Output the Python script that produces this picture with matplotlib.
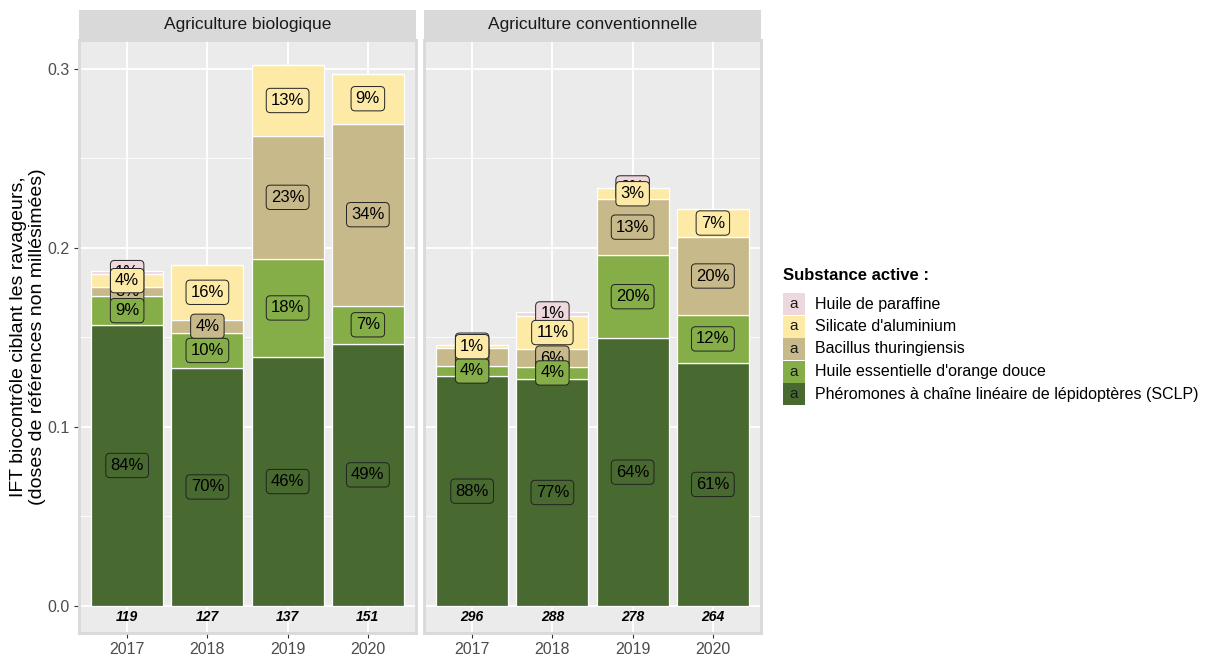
import matplotlib
matplotlib.use('Agg')
import matplotlib.pyplot as plt
from matplotlib.patches import Rectangle

plt.rcParams['font.family'] = ['Liberation Sans', 'DejaVu Sans']

# ---------------- data ----------------
years = ['2017', '2018', '2019', '2020']
panels = ['Agriculture biologique', 'Agriculture conventionnelle']
substances = ['Phéromones à chaîne linéaire de lépidoptères (SCLP)',
              "Huile essentielle d'orange douce",
              'Bacillus thuringiensis',
              "Silicate d'aluminium",
              'Huile de paraffine']
colors = ['#48692F', '#86AE48', '#C8B98A', '#FDEAA7', '#EDD8DE']

sclp_bio = [0.157, 0.133, 0.139, 0.1465]
orange_bio = [0.016, 0.0195, 0.055, 0.0212]
bt_bio = [0.005, 0.0075, 0.0686, 0.1018]
silicate_bio = [0.0075, 0.0305, 0.0396, 0.0278]
paraffin_bio = [0.0015, 0.0, 0.0, 0.0]

sclp_conv = [0.1283, 0.1268, 0.1495, 0.1358]
orange_conv = [0.0060, 0.0068, 0.0466, 0.0268]
bt_conv = [0.0098, 0.0098, 0.0311, 0.0435]
silicate_conv = [0.0015, 0.0187, 0.0062, 0.0157]
paraffin_conv = [0.0002, 0.0021, 0.0003, 0.0]

counts_bio = [119, 127, 137, 151]
counts_conv = [296, 288, 278, 264]

series = [
    [sclp_bio, orange_bio, bt_bio, silicate_bio, paraffin_bio],
    [sclp_conv, orange_conv, bt_conv, silicate_conv, paraffin_conv],
]
counts = [counts_bio, counts_conv]

# ---------------- layout ----------------
W, H = 1206, 657
fig = plt.figure(figsize=(W / 100, H / 100), dpi=100)
fig.patch.set_facecolor('white')


def fx(px):
    return px / W


def fy(py):
    return 1 - py / H


panel_x = [(79, 416), (424, 761)]
top, bottom, strip_top = 40, 633, 10
label_z = [5, 5, 3, 5, 2]

for p, (x0, x1) in enumerate(panel_x):
    ax = fig.add_axes([fx(x0), fy(bottom), fx(x1 - x0), (bottom - top) / H])
    ax.set_facecolor('#EBEBEB')
    xs = list(range(1, len(years) + 1))
    cum = [0.0] * len(years)
    totals = [sum(s[i] for s in series[p]) for i in range(len(years))]
    for k, vals in enumerate(series[p]):
        ax.bar(xs, vals, bottom=cum, width=0.9, color=colors[k],
               edgecolor='white', linewidth=0.9, zorder=2)
        for i, v in enumerate(vals):
            if v <= 0:
                continue
            pct = round(100 * v / totals[i])
            ax.text(xs[i], cum[i] + v / 2, f'{pct}%', ha='center', va='center',
                    fontsize=12, color='black', zorder=label_z[k],
                    bbox=dict(boxstyle='round,pad=0.28,rounding_size=0.25',
                              fc=colors[k], ec='#222222', lw=0.7))
        cum = [c + v for c, v in zip(cum, vals)]
    for i, c in enumerate(counts[p]):
        ax.text(xs[i], -0.0062, str(c), ha='center', va='center', fontsize=10,
                fontweight='bold', fontstyle='italic', color='black', zorder=6)

    ax.set_xlim(0.4, 4.6)
    ax.set_ylim(-0.0151, 0.3162)
    ax.set_xticks(xs)
    ax.set_xticklabels(years)
    ax.set_yticks([0.0, 0.1, 0.2, 0.3])
    ax.set_yticks([0.05, 0.15, 0.25], minor=True)
    ax.set_yticklabels(['0.0', '0.1', '0.2', '0.3'])
    ax.grid(which='major', color='white', linewidth=1.3, zorder=0)
    ax.grid(which='minor', axis='y', color='white', linewidth=0.6, zorder=0)
    ax.set_axisbelow(True)
    ax.tick_params(axis='both', which='major', length=3.5, width=0.8,
                   color='#333333', labelcolor='#4D4D4D', labelsize=11.5, pad=3)
    ax.tick_params(axis='y', which='minor', length=0)
    if p == 1:
        ax.tick_params(axis='y', which='both', left=False, labelleft=False)
    for sp in ax.spines.values():
        sp.set_color('#D9D9D9')
        sp.set_linewidth(2)

    sax = fig.add_axes([fx(x0), fy(top), fx(x1 - x0), (top - strip_top) / H])
    sax.set_facecolor('#D9D9D9')
    sax.set_xticks([])
    sax.set_yticks([])
    for sp in sax.spines.values():
        sp.set_visible(False)
    sax.text(0.5, 0.5, panels[p], ha='center', va='center', fontsize=12.5,
             color='#1A1A1A', transform=sax.transAxes)

# y label
fig.text(fx(28), fy(336.5),
         'IFT biocontrôle ciblant les ravageurs,\n(doses de références non millésimées)',
         rotation=90, ha='center', va='center', multialignment='center',
         fontsize=14, linespacing=1.2, color='black')

# legend
fig.text(fx(783), fy(276), 'Substance active :', fontweight='bold', fontsize=12,
         ha='left', va='center')
order = [4, 3, 2, 1, 0]
for r, k in enumerate(order):
    yc = 304 + r * 22.5
    fig.patches.append(Rectangle((fx(783), fy(yc + 11)), fx(22), 22 / H,
                                 transform=fig.transFigure, facecolor=colors[k],
                                 edgecolor='none'))
    fig.text(fx(794), fy(yc), 'a', ha='center', va='center', fontsize=11,
             color='#1A1A1A')
    fig.text(fx(815), fy(yc), substances[k], ha='left', va='center',
             fontsize=11.5, color='black')

fig.savefig('out.png', dpi=100)
